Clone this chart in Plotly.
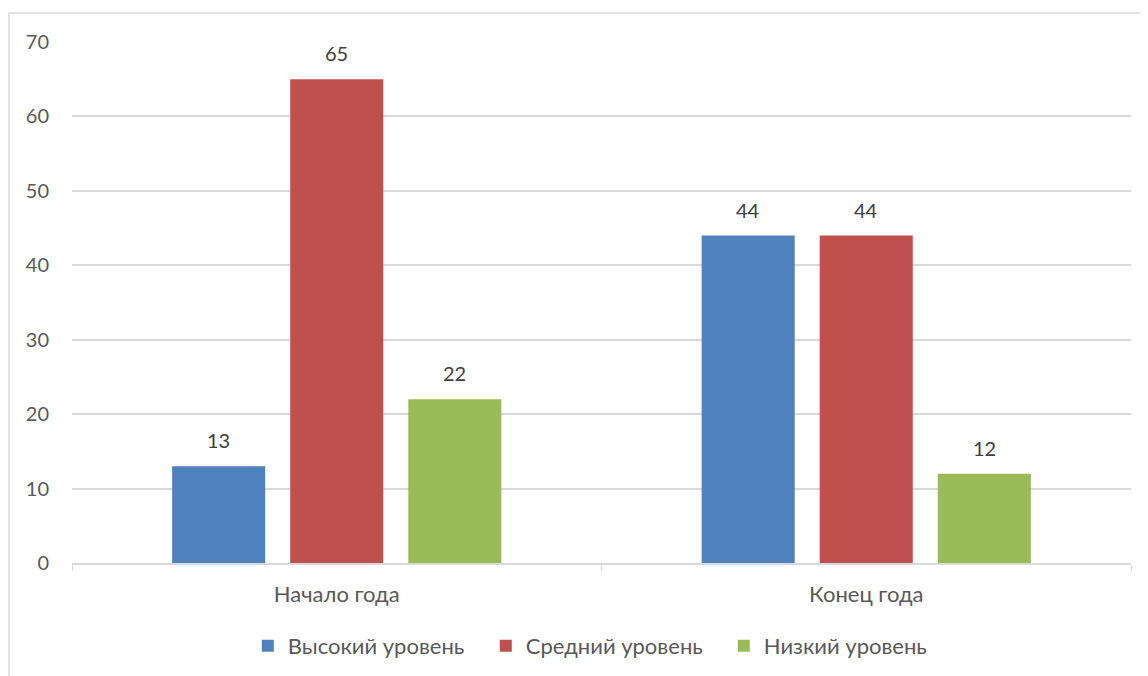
import plotly.graph_objects as go

categories = ["Начало года", "Конец года"]
series_names = ["Высокий уровень", "Средний уровень", "Низкий уровень"]
high = [13, 44]
mid = [65, 44]
low = [22, 12]
colors = ["#4F81BD", "#C0504D", "#9BBB59"]
y_ticks = [0, 10, 20, 30, 40, 50, 60, 70]

FONT = "Lato, 'Open Sans', sans-serif"
W, H = 1148, 676
ML, MR, MT, MB = 64, 25, 34, 121
BARGAP = 0.331
plot_w = W - ML - MR
slot = plot_w / len(categories) * (1 - BARGAP) / len(series_names)

fig = go.Figure()
annotations = []
for i, (name, vals, col) in enumerate(zip(series_names, [high, mid, low], colors)):
    fig.add_trace(go.Bar(
        x=categories, y=vals, name=name,
        marker=dict(color=col, line=dict(width=0)),
    ))
    for c, v in zip(categories, vals):
        annotations.append(dict(
            x=c, y=v, xref="x", yref="y", text=str(v), showarrow=False,
            xshift=(i - 1) * slot, yshift=12, yanchor="bottom",
            font=dict(size=20, color="#404040", family=FONT),
        ))

fig.update_layout(
    width=W, height=H,
    barmode="group", bargap=BARGAP, bargroupgap=0.212,
    plot_bgcolor="white", paper_bgcolor="white",
    margin=dict(l=ML, r=MR, t=MT, b=MB),
    font=dict(family=FONT, size=20, color="#595959"),
    showlegend=True,
    legend=dict(orientation="h", x=0.166, xanchor="left", y=-0.159, yanchor="middle",
                entrywidth=193, entrywidthmode="pixels",
                font=dict(size=22, color="#595959"), itemwidth=30, traceorder="normal"),
    xaxis=dict(showgrid=False, showline=True, linecolor="#d9d9d9", linewidth=1.5,
               ticks="outside", tickson="boundaries", tickcolor="#d9d9d9", ticklen=6,
               ticklabelstandoff=11,
               tickfont=dict(size=22, color="#595959")),
    yaxis=dict(range=[0, 70], tickvals=y_ticks, showgrid=True, gridcolor="#d9d9d9",
               gridwidth=1.5, zeroline=False, showline=False, ticks="",
               ticklabelstandoff=22,
               tickfont=dict(size=20, color="#595959")),
    annotations=annotations,
    shapes=[
        dict(type="rect", xref="paper", yref="paper", x0=-0.0595, x1=1.2, y0=-0.5, y1=1.0557,
             line=dict(color="#d9d9d9", width=1.5), fillcolor="rgba(0,0,0,0)", layer="below"),
    ],
)

fig.write_html("out.html")
